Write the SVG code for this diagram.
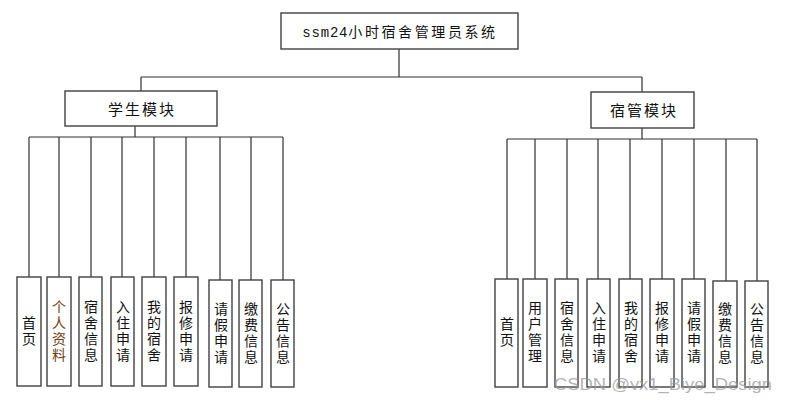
<svg xmlns="http://www.w3.org/2000/svg" width="787" height="403" viewBox="0 0 787 403">
<style>
.box{fill:#fff;stroke:#404040;stroke-width:1.4}
.ln{fill:none;stroke:#303030;stroke-width:1.2}
.t{font-family:"Noto Sans CJK SC","Liberation Sans",sans-serif;font-size:14px;fill:#111;text-anchor:middle}
.v{writing-mode:vertical-rl;letter-spacing:2px}
.h{font-size:15px;letter-spacing:2px}
.wm{font-family:"Liberation Sans",sans-serif;font-size:16px;fill:#9a9a9a;fill-opacity:0.75}
</style>
<rect width="787" height="403" fill="#fff"/>
<g id="connectors">
<path class="ln" d="M399,49V77M141,77H642M141,77V92M642,77V92"/>
<path class="ln" d="M135,126V137M29,137H283M29,137V277M59,137V277M91,137V277M122,137V277M154,137V277M186,137V277M220,137V280M251,137V280M283,137V280"/>
<path class="ln" d="M642,128V139M507,139H757M507,139V279M535,139V279M567,139V279M598,139V279M630,139V279M662,139V279M694,139V279M726,139V281M757,139V281"/>
</g>
<g id="root"><rect class="box" x="281" y="13" width="237" height="36"/>
<text class="t" x="400" y="37"><tspan font-family="Liberation Mono,monospace" letter-spacing="0.8">ssm24</tspan><tspan letter-spacing="2.6">小时宿舍管理员系统</tspan></text></g>
<g id="student"><rect class="box" x="65" y="91" width="152" height="35"/><text class="t h" x="142" y="115">学生模块</text></g>
<g id="admin"><rect class="box" x="591" y="92" width="103" height="36"/><text class="t h" x="644" y="116">宿管模块</text></g>

<g id="s1"><rect class="box" x="17" y="277" width="24" height="109"/><text class="t v" x="29" y="332">首页</text></g>
<g id="s2"><rect class="box" x="47" y="277" width="24" height="109"/><text class="t v" x="59" y="332" style="fill:#6e3d14">个人资料</text></g>
<g id="s3"><rect class="box" x="79" y="277" width="23" height="109"/><text class="t v" x="91" y="332">宿舍信息</text></g>
<g id="s4"><rect class="box" x="111" y="277" width="23" height="109"/><text class="t v" x="123" y="332">入住申请</text></g>
<g id="s5"><rect class="box" x="142" y="277" width="24" height="109"/><text class="t v" x="154" y="332">我的宿舍</text></g>
<g id="s6"><rect class="box" x="174" y="277" width="24" height="109"/><text class="t v" x="186" y="332">报修申请</text></g>
<g id="s7"><rect class="box" x="209" y="280" width="23" height="107"/><text class="t v" x="221" y="334">请假申请</text></g>
<g id="s8"><rect class="box" x="239" y="280" width="23" height="107"/><text class="t v" x="251" y="334">缴费信息</text></g>
<g id="s9"><rect class="box" x="271" y="280" width="23" height="107"/><text class="t v" x="283" y="334">公告信息</text></g>

<g id="a1"><rect class="box" x="495" y="279" width="23" height="108"/><text class="t v" x="507" y="333">首页</text></g>
<g id="a2"><rect class="box" x="523" y="279" width="24" height="108"/><text class="t v" x="535" y="333">用户管理</text></g>
<g id="a3"><rect class="box" x="555" y="279" width="23" height="108"/><text class="t v" x="567" y="333">宿舍信息</text></g>
<g id="a4"><rect class="box" x="587" y="279" width="23" height="108"/><text class="t v" x="599" y="333">入住申请</text></g>
<g id="a5"><rect class="box" x="619" y="279" width="23" height="108"/><text class="t v" x="631" y="333">我的宿舍</text></g>
<g id="a6"><rect class="box" x="650" y="279" width="24" height="108"/><text class="t v" x="662" y="333">报修申请</text></g>
<g id="a7"><rect class="box" x="682" y="279" width="23" height="108"/><text class="t v" x="694" y="333">请假申请</text></g>
<g id="a8"><rect class="box" x="713" y="281" width="24" height="106"/><text class="t v" x="725" y="334">缴费信息</text></g>
<g id="a9"><rect class="box" x="745" y="281" width="23" height="106"/><text class="t v" x="757" y="334">公告信息</text></g>

<text class="wm" x="554" y="390" textLength="218" lengthAdjust="spacingAndGlyphs">CSDN @vx1_Biye_Design</text>
</svg>
